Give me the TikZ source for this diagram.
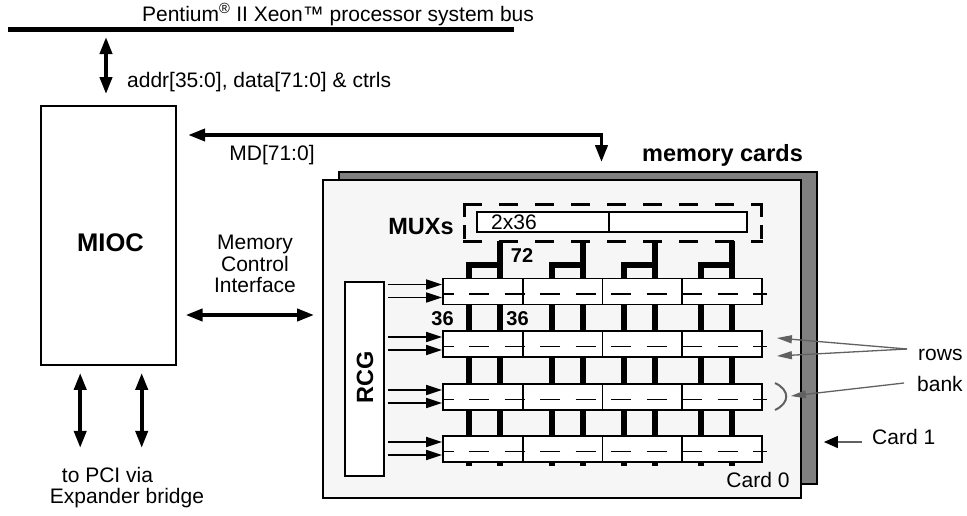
\documentclass[tikz,border=0pt]{standalone}
\usepackage{fontspec}
\setmainfont{Liberation Sans}
\usetikzlibrary{arrows.meta}

\definecolor{cardback}{gray}{0.5}
\definecolor{cardface}{gray}{0.965}
\definecolor{pointgray}{gray}{0.38}

\begin{document}
\begin{tikzpicture}[x=1pt,y=-1pt,every node/.style={inner sep=0pt},
  box/.style={draw,line width=1.8pt},
  cell/.style={draw,fill=white,line width=1.8pt,minimum width=79.75pt,minimum height=26pt},
  fat/.style={line width=3.8pt,{Triangle[length=17pt,width=12pt]}-{Triangle[length=17pt,width=12pt]}},
  feed/.style={line width=1.6pt,-{Triangle[length=16pt,width=10pt]}},
  bar/.style={line width=5.5pt},
  muxdash/.style={line width=2.8pt,line cap=rect},
  pointer/.style={draw=pointgray,line width=1.3pt,-{Triangle[length=15pt,width=8pt]}},
  bold/.style={font=\fontsize{23.5}{26}\selectfont\bfseries},
  num/.style={font=\fontsize{20}{22}\selectfont\bfseries}]
\fontsize{21}{21.5}\selectfont
\useasboundingbox (0,0) rectangle (967,515);

\coordinate (busL) at (8,29.5);
\coordinate (busR) at (514,29.5);
\coordinate (busaddr) at (106,29.5);
\draw[line width=5pt] (busL) -- (busR);
\node[anchor=base] (bustext) at (338,21.5) {Pentium\textsuperscript{\textregistered} II Xeon\texttrademark\ processor system bus};

\node[box,minimum width=135pt,minimum height=259pt] (mioc) at (108.2,235.5) {};
\node[font=\fontsize{25.5}{28}\selectfont\bfseries] (mioctext) at (110.5,243) {MIOC};
\draw[fat] ([yshift=-7.5pt]busaddr) -- ([yshift=11pt]busaddr |- mioc.north);
\node[anchor=base west] (addrtext) at (127,87) {addr[35:0], data[71:0] \& ctrls};

\draw[fat] ([shift={(-28,7)}]mioc.south) -- ++(0,75);
\draw[fat] ([shift={(33.5,7)}]mioc.south) -- ++(0,75);
\node[anchor=base] (pcitext) at (107.5,482) {to PCI via};
\node[anchor=base] (bridgetext) at (127,503.5) {Expander bridge};

\node[box,fill=cardback,minimum width=478pt,minimum height=312pt] (card1) at (578,328) {};
\node[box,fill=cardface,minimum width=478pt,minimum height=318pt] (card0) at (562,339) {};
\node[bold,anchor=base west] (cardstext) at (642,161.5) {memory cards};
\node[anchor=base] (card0text) at (758,487) {Card 0};

\coordinate (mdcorner) at (601.5,135);
\draw[fat] ([xshift=11.5pt]mioc.east |- mdcorner) -- (mdcorner) -- ([yshift=9pt]mdcorner |- card1.north);
\node[anchor=base] (mdtext) at (272,160) {MD[71:0]};

\coordinate (mci) at (0,315);
\draw[fat] ([xshift=9pt]mioc.east |- mci) -- ([xshift=-8pt]card0.west |- mci);
\node[align=center,anchor=north] (mcitext) at (255,235) {Memory\\Control\\Interface};

\node[minimum width=296pt,minimum height=36pt] (muxframe) at (613,223) {};
\draw[muxdash,dash pattern=on 16.2pt off 19.8pt] (muxframe.north west) -- (muxframe.north east);
\draw[muxdash,dash pattern=on 16.2pt off 19.8pt] (muxframe.south west) -- (muxframe.south east);
\draw[muxdash,dash pattern=on 11.2pt off 10.8pt] (muxframe.north west) -- (muxframe.south west);
\draw[muxdash,dash pattern=on 11.2pt off 10.8pt] (muxframe.north east) -- (muxframe.south east);
\node[box,fill=white,minimum width=132pt,minimum height=20pt] (muxa) at (543,222) {};
\node[box,fill=white,minimum width=138pt,minimum height=20pt] (muxb) at (678,222) {};
\node[anchor=base west] (muxtext) at (491,229) {2x36};
\node[bold] (muxlabel) at (421,226.5) {MUXs};

\foreach \r/\y in {1/291.5,2/344,3/397,4/449}{
  \foreach \c in {1,...,4}
    \node[cell] (row\r-\c) at ({443+79.75*(\c-0.5)},\y) {};
  \draw[line width=1.6pt,dash pattern=on 20pt off 15.5pt,dash phase=8.5pt] ([yshift=-2.5pt]row\r-1.west) -- ([shift={(4,2.5)}]row\r-4.east);
}

\foreach \x in {469,500,552,583,624,655,701,732}{
  \foreach \a/\b in {1/2,2/3,3/4}
    \draw[bar] (row\a-1.south -| \x,0) -- (row\b-1.north -| \x,0);
  \draw[bar] (row4-1.south -| \x,0) -- ++(0,3);
}
\foreach \a/\b in {469/500,552/583,624/655,701/732}{
  \draw[bar] (muxframe.south -| \b,0) -- (row1-1.north -| \b,0);
  \draw[bar] (\b,265) -- (\a,265) -- (row1-1.north -| \a,0);
}
\node[num] (n72) at (522,256) {72};
\node[num] (n36a) at (442.5,318.5) {36};
\node[num] (n36b) at (517.5,318.5) {36};

\node[box,fill=white,minimum width=39pt,minimum height=194pt] (rcg) at (364.5,379) {};
\node[bold,rotate=90] (rcgtext) at (365,377) {RCG};
\foreach \r in {1,...,4}
  \foreach \d in {7,-6}
    \draw[feed] ([xshift=3pt,yshift=\d pt]rcg.east |- row\r-1.west) -- ([yshift=\d pt]row\r-1.west);

\node[anchor=base west] (rowstext) at (918,360) {rows};
\node[anchor=base west] (banktext) at (917,391) {bank};
\node[anchor=base west] (card1text) at (872,444) {Card 1};
\coordinate (rowsfrom) at (907,349);
\coordinate (bankfrom) at (904,383);
\coordinate (card1from) at (862,442);
\draw[pointer] (rowsfrom) -- ([shift={(14,-6)}]row2-4.east);
\draw[pointer] (rowsfrom) -- ([shift={(14,12)}]row2-4.east);
\draw[pointgray,line width=2pt] (775,383) .. controls (790,390) and (790,403) .. (775,410);
\draw[pointer] (bankfrom) -- ([shift={(28,-1)}]row3-4.east);
\draw[draw=pointgray,line width=1.3pt,-{Triangle[length=14pt,width=12pt,black]}] (card1from) -- ([xshift=6pt]card1from -| card1.east);
\end{tikzpicture}
\end{document}
